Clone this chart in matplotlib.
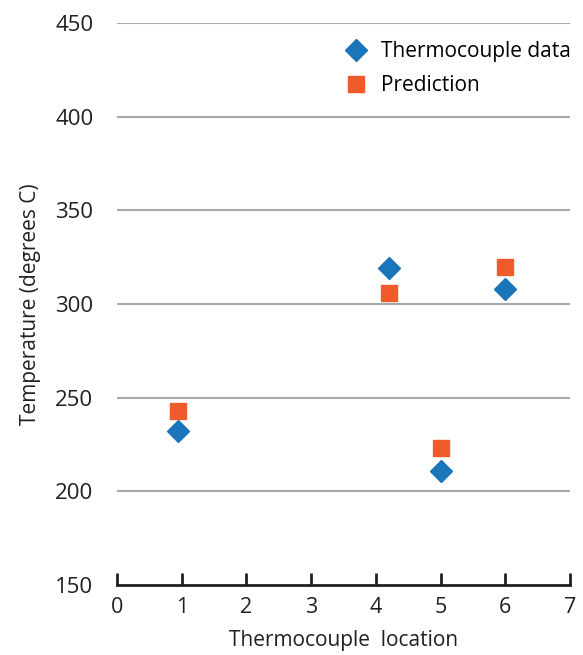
import matplotlib
matplotlib.use('Agg')
import matplotlib.pyplot as plt

# Thermocouple readings vs model prediction at each location
locations = [0.95, 4.2, 5.0, 6.0]
measured = [232, 319, 211, 308]
predicted = [243, 306, 223, 320]

plt.rcParams['font.family'] = ['Open Sans', 'DejaVu Sans']

fig = plt.figure(figsize=(5.83, 6.55), dpi=100)
ax = fig.add_axes([0.2007, 0.1069, 0.777, 0.858])

ax.plot(locations, measured, linestyle='none', marker='D', markersize=11,
        color='#1b75bb', label='Thermocouple data', zorder=3)
ax.plot(locations, predicted, linestyle='none', marker='s', markersize=11.5,
        color='#f15a2b', label='Prediction', zorder=3)

ax.set_xlim(0, 7)
ax.set_ylim(150, 450)
ax.set_xticks(range(0, 8))
ax.set_yticks(range(150, 451, 50))

# gray gridlines, except at the baseline
for y in range(200, 451, 50):
    ax.axhline(y, color='#a7a9ac', linewidth=1.5, zorder=1)

for side in ['left', 'right', 'top']:
    ax.spines[side].set_visible(False)
ax.spines['bottom'].set_linewidth(2)
ax.spines['bottom'].set_color('#231f20')

ax.tick_params(axis='x', direction='in', length=9, width=2, color='#231f20',
               labelsize=15.5, labelcolor='#231f20', pad=9)
ax.tick_params(axis='y', length=0, labelsize=16, labelcolor='#231f20', pad=17)

ax.set_xlabel('Thermocouple  location', fontsize=15, color='#231f20', labelpad=8)
ax.set_ylabel('Temperature (degrees C)', fontsize=15, color='#231f20', labelpad=10)

ax.legend(loc='upper right', frameon=False, fontsize=15, handletextpad=0.2,
          borderaxespad=0.0, labelspacing=0.65, bbox_to_anchor=(1.02, 0.983))

plt.savefig('out.png', dpi=100)
